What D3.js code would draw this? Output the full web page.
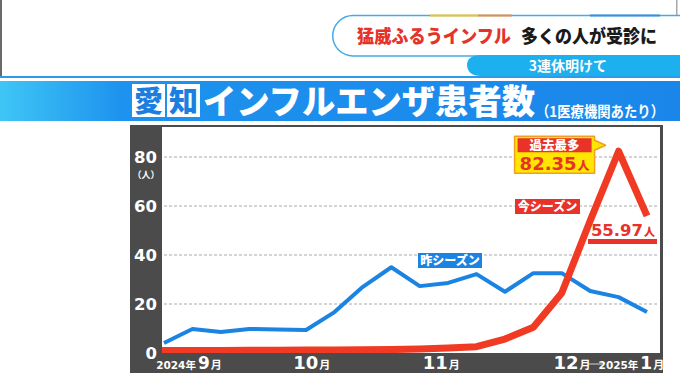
<!DOCTYPE html>
<html><head><meta charset="utf-8">
<script src="https://cdn.jsdelivr.net/npm/d3@7"></script>
<style>
body{margin:0;background:#fff;overflow:hidden;}
svg{display:block;}
text{font-family:"Noto Sans CJK JP","Noto Sans",sans-serif;}
.num{font-family:"DejaVu Sans",sans-serif;font-weight:bold;}
</style>
</head><body>
<svg id="c" width="680" height="382"></svg>
<script>
// ---- data ----
const weeks = ["36","37","38","39","40","41","42","43","44","45","46","47","48","49","50","51","52","1"];
const lastSeason = [4.1,9.8,8.6,9.8,9.6,9.4,16.7,27,35,27.3,28.6,32.2,25,32.6,32.6,25.3,22.8,16.7];
const thisSeason = [1.0,1.0,1.0,1.1,1.1,1.2,1.2,1.3,1.4,1.6,2.0,2.6,5.7,10.5,24.5,54,82.35,55.97];
const yTicks = [0,20,40,60,80];
const monthLabels = [
  {pre:"2024年", big:"9", suf:"月", at:0.88},
  {pre:"", big:"10", suf:"月", at:5.2},
  {pre:"", big:"11", suf:"月", at:9.76},
  {pre:"", big:"12", suf:"月", at:14.36},
  {pre:"2025年", big:"1", suf:"月", at:16.45}
];
const headline1 = "猛威ふるうインフル";
const headline2 = "多くの人が受診に";
const subline = "3連休明けて";
const titlePref = ["愛","知"];
const titleMain = "インフルエンザ患者数";
const titleNote = "（1医療機関あたり）";
const peakLabel = "過去最多";
const thisLabel = "今シーズン";
const lastLabel = "昨シーズン";

const svg = d3.select("#c");
const defs = svg.append("defs");

// ---- header ----
svg.append("rect").attr("x",0).attr("y",0).attr("width",2).attr("height",76).attr("fill","#6a6a6a");
svg.append("rect").attr("x",676).attr("y",0).attr("width",1.5).attr("height",76).attr("fill","#a8a8a8");
svg.append("path").attr("d","M353 15.5 H690 V56 H353 A20.25 20.25 0 0 1 353 15.5 Z")
  .attr("fill","#fff").attr("stroke","#43ace6").attr("stroke-width",1.5);
svg.append("line").attr("x1",430).attr("x2",478).attr("y1",15.5).attr("y2",15.5).attr("stroke","#f3c21c").attr("stroke-width",2);
svg.append("line").attr("x1",478).attr("x2",512).attr("y1",15.5).attr("y2",15.5).attr("stroke","#f08a3a").attr("stroke-width",2);
svg.append("line").attr("x1",590).attr("x2",660).attr("y1",15.5).attr("y2",15.5).attr("stroke","#3a8ddc").attr("stroke-width",2);
svg.append("text").attr("x",357).attr("y",43).attr("font-size",18.5).attr("font-weight",900)
  .attr("fill","#e5332a").attr("textLength",154).attr("lengthAdjust","spacingAndGlyphs").text(headline1);
svg.append("text").attr("x",521).attr("y",43).attr("font-size",18).attr("font-weight",900)
  .attr("fill","#1a1a1a").attr("textLength",136).attr("lengthAdjust","spacingAndGlyphs").text(headline2);
svg.append("path").attr("d","M690 55 H482 Q468 55 467 64 Q467 76 481 76 H690 Z").attr("fill","#1cb0ee");
svg.append("text").attr("x",568).attr("y",71).attr("text-anchor","middle").attr("font-size",14).attr("font-weight",700)
  .attr("fill","#fff").text(subline);

// ---- title bar ----
svg.append("rect").attr("x",0).attr("y",76).attr("width",680).attr("height",2).attr("fill","#2d9be8");
const tg = defs.append("linearGradient").attr("id","tg").attr("x1",0).attr("x2",1).attr("y1",0).attr("y2",0);
tg.append("stop").attr("offset","0%").attr("stop-color","#3fc6f6");
tg.append("stop").attr("offset","18%").attr("stop-color","#1d92ee");
tg.append("stop").attr("offset","100%").attr("stop-color","#1a86ea");
svg.append("rect").attr("x",0).attr("y",81).attr("width",680).attr("height",40).attr("fill","url(#tg)");
titlePref.forEach((ch,i)=>{
  const bx = 132 + i*35;
  svg.append("rect").attr("x",bx).attr("y",84).attr("width",33).attr("height",33).attr("fill","#fff");
  svg.append("text").attr("x",bx+16.5).attr("y",112).attr("text-anchor","middle").attr("font-size",29)
    .attr("font-weight",900).attr("fill","#1a7fe0").text(ch);
});
svg.append("text").attr("x",203).attr("y",114).attr("font-size",34).attr("font-weight",900).attr("fill","#fff")
  .attr("textLength",332).attr("lengthAdjust","spacingAndGlyphs").text(titleMain);
svg.append("text").attr("x",536).attr("y",117).attr("font-size",15).attr("font-weight",700).attr("fill","#fff")
  .attr("textLength",128).attr("lengthAdjust","spacingAndGlyphs").text(titleNote);

// ---- chart frame ----
const frame = {x:130, y:125, w:533, h:248};
const plot = {x:162, y:127, w:498, h:226};
svg.append("rect").attr("x",frame.x).attr("y",frame.y).attr("width",frame.w).attr("height",frame.h).attr("fill","#4b4b4b");
svg.append("rect").attr("x",plot.x).attr("y",plot.y).attr("width",plot.w).attr("height",plot.h).attr("fill","#fff");

const x = d3.scaleLinear().domain([0, weeks.length-1]).range([164, 647]);
const y = d3.scaleLinear().domain([0, 80]).range([353, 157]);

// gridlines
svg.append("g").selectAll("line").data(yTicks.filter(d=>d>0)).join("line")
  .attr("x1",plot.x+2).attr("x2",plot.x+plot.w-2)
  .attr("y1",d=>y(d)).attr("y2",d=>y(d))
  .attr("stroke","#a9a9a9").attr("stroke-width",1).attr("stroke-dasharray","3,2");

// y axis labels
const yAxis = d3.axisLeft(y).tickValues(yTicks).tickSize(0).tickPadding(0).tickFormat(d3.format("d"));
const ya = svg.append("g").attr("transform","translate(157,0)").call(yAxis);
ya.select(".domain").remove();
ya.selectAll("text").attr("class","num").attr("fill","#fff").attr("font-size",16.5).attr("dy","0.36em");
svg.append("text").attr("x",146).attr("y",178).attr("text-anchor","middle").attr("font-size",9).attr("font-weight",700)
  .attr("fill","#fff").text("（人）");

// x axis month labels
const xl = svg.append("g");
monthLabels.forEach(m=>{
  const t = xl.append("text").attr("x",x(m.at)).attr("y",369).attr("text-anchor","middle").attr("fill","#fff");
  if(m.pre) t.append("tspan").attr("class","num").attr("font-size",10.5).text(m.pre.replace("年","")).append("tspan").attr("style","font-family:'Noto Sans CJK JP'").attr("font-weight",700).text("年");
  t.append("tspan").attr("class","num").attr("font-size",m.pre?17:18).attr("dx",m.pre?2:0).text(m.big);
  t.append("tspan").attr("font-size",11).attr("font-weight",700).attr("dx",1).text(m.suf);
});
svg.append("line").attr("x1",589).attr("x2",603).attr("y1",364).attr("y2",364).attr("stroke","#bbb").attr("stroke-width",1.2);

// clip for lines
defs.append("clipPath").attr("id","pc").append("rect").attr("x",plot.x).attr("y",plot.y).attr("width",plot.w).attr("height",plot.h);

const line = d3.line().x((d,i)=>x(i)).y(d=>y(d));
const lg = svg.append("g").attr("clip-path","url(#pc)");
lg.append("path").datum(lastSeason).attr("d",line).attr("fill","none").attr("stroke","#1b84e3")
  .attr("stroke-width",4).attr("stroke-linejoin","round");
lg.append("path").datum(thisSeason.map((d,i)=>({d,i})))
  .attr("d",d3.line().x(p=>p.i===0?plot.x:x(p.i)).y(p=>y(p.d)))
  .attr("fill","none").attr("stroke","#f03a24").attr("stroke-width",7).attr("stroke-linejoin","round");

// ---- annotations ----
const pi = thisSeason.indexOf(d3.max(thisSeason));
const px = x(pi), py = y(thisSeason[pi]);
// peak callout
const cr = px - 24, cl = cr - 80, ct = py - 15, cb = ct + 37;
svg.append("path").attr("d",`M${cl} ${ct} H${cr} V${ct+4} L${cr+11} ${ct+9} L${cr} ${ct+14} V${cb} H${cl} Z`)
  .attr("fill","#ffe500").attr("stroke","#f0a020").attr("stroke-width",1.5).attr("stroke-linejoin","round");
svg.append("rect").attr("x",cl+3).attr("y",ct+2).attr("width",74).attr("height",14).attr("fill","#e8322a");
svg.append("text").attr("x",cl+40).attr("y",ct+14).attr("text-anchor","middle").attr("font-size",12.5).attr("font-weight",900)
  .attr("fill","#fff").text(peakLabel);
const pt = svg.append("text").attr("x",cl+40).attr("y",cb-3).attr("text-anchor","middle").attr("fill","#e8322a");
pt.append("tspan").attr("class","num").attr("font-size",18).text(d3.format(".2f")(thisSeason[pi]));
pt.append("tspan").attr("font-size",12).attr("font-weight",900).attr("dx",1).text("人");

// this season label
svg.append("rect").attr("x",515).attr("y",199).attr("width",65).attr("height",15).attr("fill","#e8322a");
svg.append("text").attr("x",547.5).attr("y",211).attr("text-anchor","middle").attr("font-size",12).attr("font-weight",900)
  .attr("fill","#fff").text(thisLabel);

// latest value
const li = thisSeason.length-1;
const lt = svg.append("text").attr("x",623).attr("y",236).attr("text-anchor","middle").attr("fill","#e8322a");
lt.append("tspan").attr("class","num").attr("font-size",16.5).text(d3.format(".2f")(thisSeason[li]));
lt.append("tspan").attr("font-size",11).attr("font-weight",900).attr("dx",1).text("人");
svg.append("rect").attr("x",588).attr("y",239).attr("width",69).attr("height",5).attr("fill","#e8322a");

// last season label
svg.append("rect").attr("x",418).attr("y",253).attr("width",64).attr("height",15).attr("fill","#1b84e3");
svg.append("text").attr("x",450).attr("y",265).attr("text-anchor","middle").attr("font-size",12).attr("font-weight",900)
  .attr("fill","#fff").text(lastLabel);
</script>
</body></html>
